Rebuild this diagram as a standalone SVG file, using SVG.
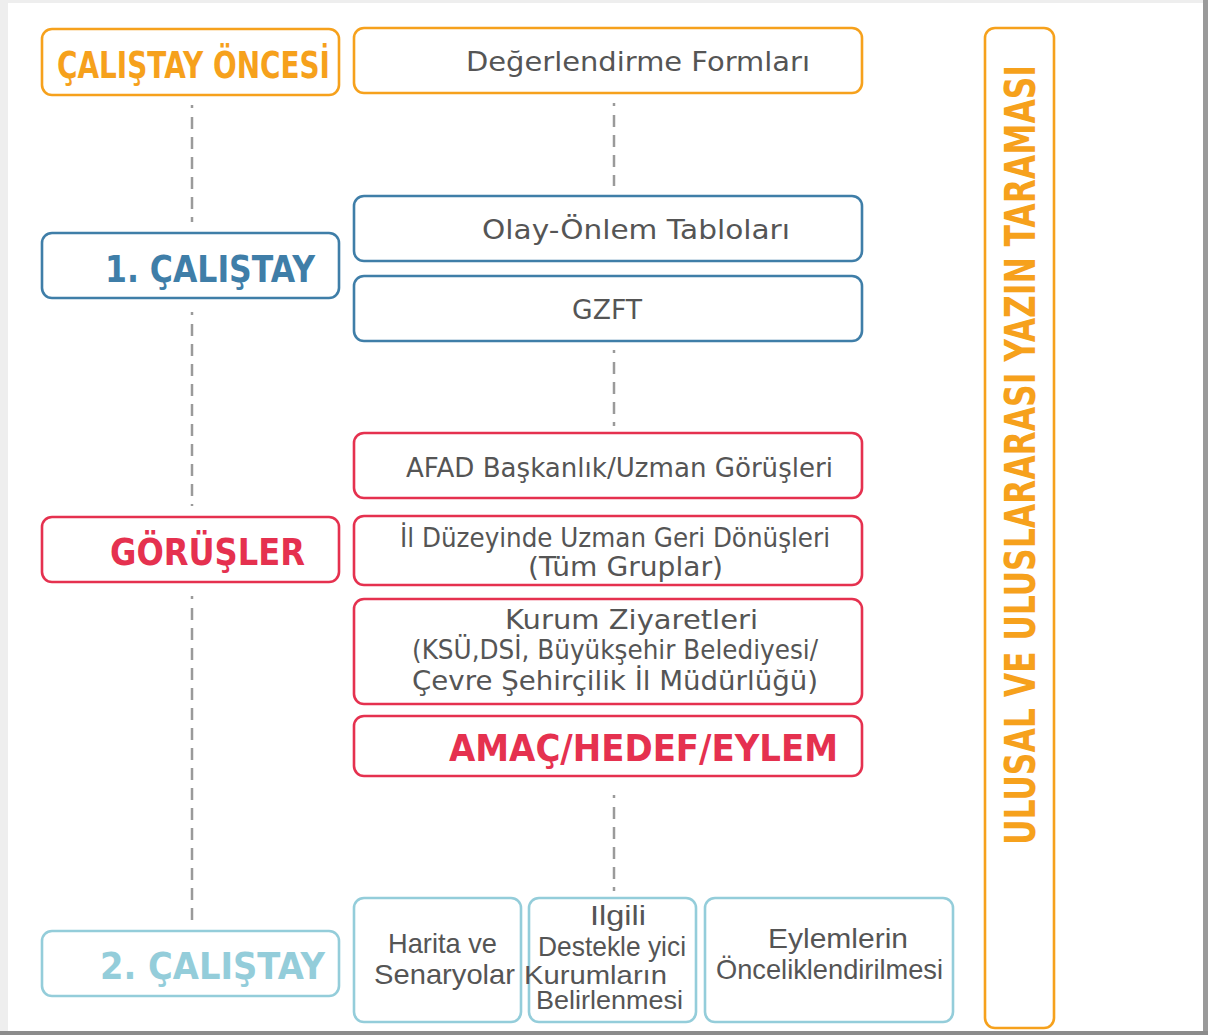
<svg xmlns="http://www.w3.org/2000/svg" width="1208" height="1035" viewBox="0 0 1208 1035">
<style>
.box{fill:#fff;stroke-width:2.6}
.or{stroke:#F6A11C}
.bl{stroke:#3F7EA8}
.rd{stroke:#E5314F}
.lb{stroke:#94CDDA}
.t{font-family:"DejaVu Sans","Verdana",sans-serif;font-size:27px;fill:#555;text-anchor:start}
.n{font-family:"Liberation Sans",Arial,sans-serif;font-size:28px;fill:#555;text-anchor:start}
.s{font-size:25px}
.h{font-family:"DejaVu Sans",Verdana,sans-serif;font-weight:bold;font-size:37px;text-anchor:start}
.conn line{stroke:#9a9a9a;stroke-width:2.5;stroke-dasharray:3 9 12 8 12 8 12 8 12 8 12 8 12 8 12 8 12 8 12 8 12 8 12 8 12 8 12 8 12 8 12 8 12 8}
</style>
<rect x="0" y="0" width="1208" height="1035" fill="#eeeeee"/>
<rect x="1203" y="0" width="5" height="1035" fill="#9a9a9a"/>
<rect x="0" y="1031" width="1208" height="4" fill="#8c8c8c"/>
<rect x="8" y="3" width="1195" height="1028" fill="#ffffff"/>

<g class="conn">
<line x1="192" y1="105" x2="192" y2="222"/>
<line x1="192" y1="312" x2="192" y2="506"/>
<line x1="192" y1="596" x2="192" y2="925"/>
<line x1="614" y1="103" x2="614" y2="186"/>
<line x1="614" y1="350" x2="614" y2="426"/>
<line x1="614" y1="795" x2="614" y2="891"/>
</g>

<g id="calistay-oncesi">
<rect class="box or" x="42" y="29" width="297" height="66" rx="10"/>
<text class="h" x="57" y="78" fill="#F6A11C" textLength="273" lengthAdjust="spacingAndGlyphs">ÇALIŞTAY ÖNCESİ</text>
</g>
<g id="degerlendirme">
<rect class="box or" x="354" y="28" width="508" height="65" rx="10"/>
<text class="t" x="466" y="71" textLength="344" lengthAdjust="spacingAndGlyphs">Değerlendirme Formları</text>
</g>
<g id="calistay1">
<rect class="box bl" x="42" y="233" width="297" height="65" rx="10"/>
<text class="h" x="105" y="282" fill="#3F7EA8" textLength="210" lengthAdjust="spacingAndGlyphs">1. ÇALIŞTAY</text>
</g>
<g id="olay-onlem">
<rect class="box bl" x="354" y="196" width="508" height="65" rx="10"/>
<text class="t" x="482" y="239" textLength="308" lengthAdjust="spacingAndGlyphs">Olay-Önlem Tabloları</text>
</g>
<g id="gzft">
<rect class="box bl" x="354" y="276" width="508" height="65" rx="10"/>
<text class="t" x="572" y="319" textLength="70" lengthAdjust="spacingAndGlyphs">GZFT</text>
</g>
<g id="afad">
<rect class="box rd" x="354" y="433" width="508" height="65" rx="10"/>
<text class="t" x="406" y="477" textLength="427" lengthAdjust="spacingAndGlyphs">AFAD Başkanlık/Uzman Görüşleri</text>
</g>
<g id="gorusler">
<rect class="box rd" x="42" y="517" width="297" height="65" rx="10"/>
<text class="h" x="110" y="565" fill="#E5314F" textLength="195" lengthAdjust="spacingAndGlyphs">GÖRÜŞLER</text>
</g>
<g id="il-duzeyinde">
<rect class="box rd" x="354" y="516" width="508" height="69" rx="10"/>
<text class="t" x="400" y="547" textLength="430" lengthAdjust="spacingAndGlyphs">İl Düzeyinde Uzman Geri Dönüşleri</text>
<text class="t" x="528" y="576" textLength="195" lengthAdjust="spacingAndGlyphs">(Tüm Gruplar)</text>
</g>
<g id="kurum">
<rect class="box rd" x="354" y="599" width="508" height="105" rx="10"/>
<text class="t" x="505" y="629" textLength="253" lengthAdjust="spacingAndGlyphs">Kurum Ziyaretleri</text>
<text class="t" x="412" y="659" textLength="406" lengthAdjust="spacingAndGlyphs">(KSÜ,DSİ, Büyükşehir Belediyesi/</text>
<text class="t" x="412" y="690" textLength="406" lengthAdjust="spacingAndGlyphs">Çevre Şehirçilik İl Müdürlüğü)</text>
</g>
<g id="amac">
<rect class="box rd" x="354" y="716" width="508" height="60" rx="10"/>
<text class="h" x="449" y="761" fill="#E5314F" textLength="389" lengthAdjust="spacingAndGlyphs">AMAÇ/HEDEF/EYLEM</text>
</g>
<g id="calistay2">
<rect class="box lb" x="42" y="931" width="297" height="65" rx="10"/>
<text class="h" x="100" y="979" fill="#94CDDA" textLength="225" lengthAdjust="spacingAndGlyphs">2. ÇALIŞTAY</text>
</g>
<g id="harita">
<rect class="box lb" x="354" y="898" width="167" height="124" rx="10"/>
<text class="n" x="388" y="953" textLength="109" lengthAdjust="spacingAndGlyphs">Harita ve</text>
<text class="n" x="374" y="984" textLength="141" lengthAdjust="spacingAndGlyphs">Senaryolar</text>
</g>
<g id="ilgili">
<rect class="box lb" x="529" y="898" width="167" height="124" rx="10"/>
<text class="n" x="590" y="925" textLength="56" lengthAdjust="spacingAndGlyphs">Ilgili</text>
<text class="n" x="538" y="956" textLength="148" lengthAdjust="spacingAndGlyphs">Destekle yici</text>
<text class="n s" x="524" y="984" textLength="143" lengthAdjust="spacingAndGlyphs">Kurumların</text>
<text class="n s" x="536" y="1009" textLength="147" lengthAdjust="spacingAndGlyphs">Belirlenmesi</text>
</g>
<g id="eylemlerin">
<rect class="box lb" x="705" y="898" width="248" height="124" rx="10"/>
<text class="n" x="768" y="948" textLength="140" lengthAdjust="spacingAndGlyphs">Eylemlerin</text>
<text class="n" x="716" y="979" textLength="227" lengthAdjust="spacingAndGlyphs">Önceliklendirilmesi</text>
</g>
<g id="yazin-taramasi">
<rect class="box or" x="985" y="28" width="69" height="1000" rx="10"/>
<text font-family="DejaVu Sans Condensed, DejaVu Sans, sans-serif" font-weight="bold" font-size="42" fill="#F6A11C" transform="translate(1035,845) rotate(-90)" x="0" y="0" textLength="780" lengthAdjust="spacingAndGlyphs">ULUSAL VE ULUSLARARASI YAZIN TARAMASI</text>
</g>
</svg>
